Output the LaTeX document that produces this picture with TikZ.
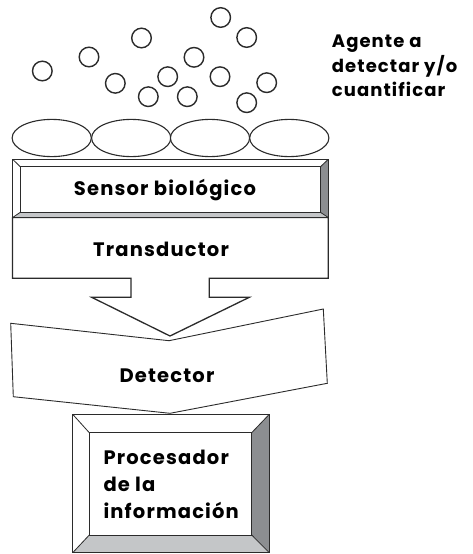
\documentclass[tikz,border=0pt]{standalone}
\usepackage{fontspec}
\setmainfont{Poppins}[LetterSpace=6]
\usetikzlibrary{shapes.geometric}
\definecolor{edge}{HTML}{2B2B2B}
\definecolor{darkbev}{HTML}{8C8E91}
\definecolor{lightbev}{HTML}{C4C6C8}
\tikzset{
  ln/.style={draw=edge, line width=1.3pt, line join=miter},
  bub/.style={draw=edge, line width=1.4pt, fill=white},
  lbl/.style={font=\fontsize{19.5}{24}\selectfont\bfseries, text=black, inner sep=0pt},
}
\begin{document}
\begin{tikzpicture}[x=1pt,y=-1pt]
\useasboundingbox (0,0) rectangle (473,554);
% molecules
\foreach \cx/\cy [count=\i] in {42.3/71, 89/57, 141.5/38, 115.3/83.3, 148.3/96.7, 167.7/76.7,
  220.7/17.5, 246.7/37.5, 194/57.3, 187.3/96.7, 220/76.7, 266.7/82.7, 246.7/102.7}
  \draw[bub] (\cx,\cy) circle (9.8);
% receptors
\foreach \cx in {51.7,131.2,210,289.3}
  \draw[ln, line width=1.1pt, fill=white] (\cx,138) ellipse (39.6 and 18.6);
% transducer with arrow
\draw[ln, fill=white] (12.5,217.5) -- (328.3,217.5) -- (328.3,278.3) -- (209.3,278.3) -- (209.3,297.3)
  -- (249.3,297.3) -- (170,336) -- (91.7,297.3) -- (131,297.3) -- (131,278.3) -- (12.5,278.3) -- cycle;
% detector
\draw[draw=edge, line width=0.9pt, fill=white] (10.7,323.3) -- (169,340.7) -- (323.3,309) -- (327.3,383.3)
  -- (170,413.3) -- (13.3,396.7) -- cycle;
% sensor bevel box
\fill[white] (12.7,159.3) rectangle (328.3,217.5);
\fill[darkbev] (328.3,159.3) -- (328.3,217.5) -- (320.7,212.5) -- (320.7,166.5) -- cycle;
\fill[lightbev] (12.7,217.5) -- (328.3,217.5) -- (320.7,212.5) -- (20,212.5) -- cycle;
\draw[ln, line width=0.8pt] (12.7,159.3) -- (20,166.5) (328.3,159.3) -- (320.7,166.5)
  (12.7,217.5) -- (20,212.5) (328.3,217.5) -- (320.7,212.5);
\draw[ln, line width=1pt] (20,166.5) rectangle (320.7,212.5);
\draw[ln] (12.7,159.3) rectangle (328.3,217.5);
% processor bevel box
\fill[white] (72.7,414.3) rectangle (269.3,552.7);
\fill[darkbev] (269.3,414.3) -- (269.3,552.7) -- (251.7,535) -- (251.7,432.7) -- cycle;
\fill[lightbev] (72.7,552.7) -- (269.3,552.7) -- (251.7,535) -- (89.3,535) -- cycle;
\draw[ln, line width=0.8pt] (72.7,414.3) -- (89.3,432.7) (269.3,414.3) -- (251.7,432.7)
  (72.7,552.7) -- (89.3,535) (269.3,552.7) -- (251.7,535);
\draw[ln, line width=1pt] (89.3,432.7) rectangle (251.7,535);
\draw[ln] (72.7,414.3) rectangle (269.3,552.7);
% labels
\node[lbl, anchor=base west, align=left, font=\fontsize{18}{24.5}\selectfont\bfseries] (agente) at (331.7,96.7)
  {Agente a\\detectar y/o\\cuantificar};
\node[lbl] (sensor) at (165,190) {Sensor biológico};
\node[lbl] (trans) at (161,249) {Transductor};
\node[lbl] (det) at (167,376) {Detector};
\node[lbl, anchor=base west, align=left, font=\fontsize{19.5}{26.7}\selectfont\bfseries] (proc) at (103.3,518.3)
  {Procesador\\de la\\información};
\end{tikzpicture}
\end{document}
